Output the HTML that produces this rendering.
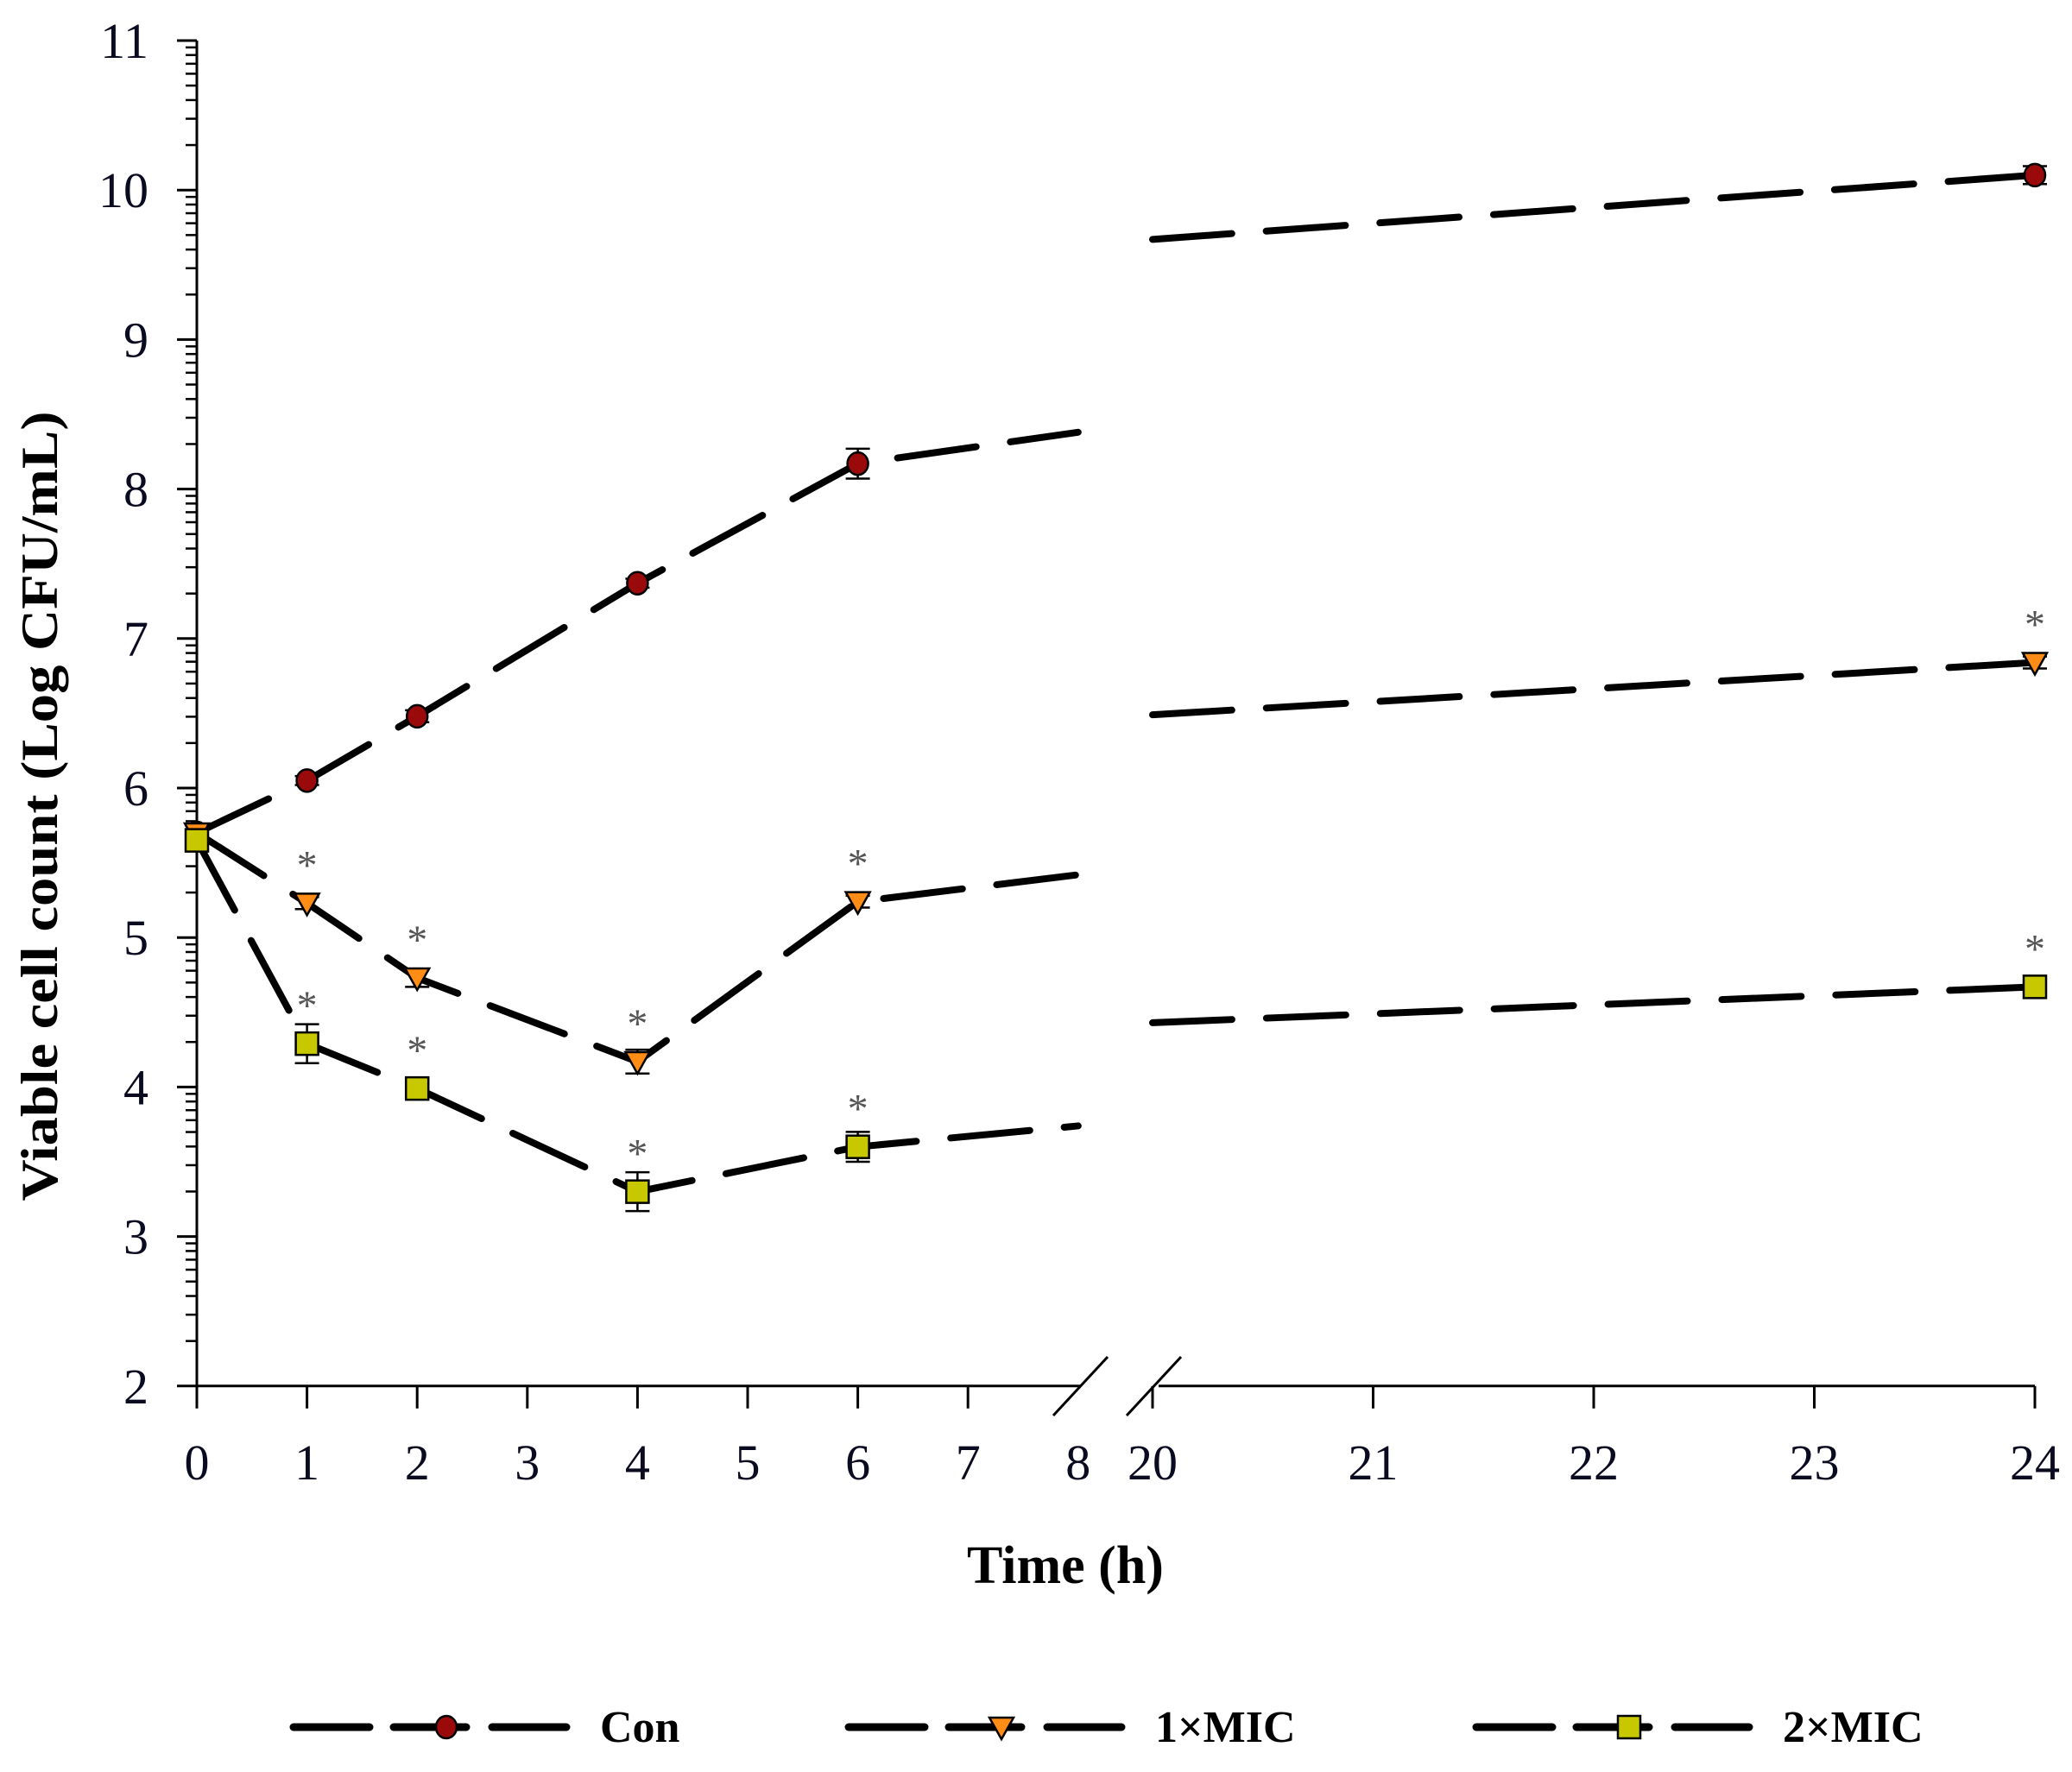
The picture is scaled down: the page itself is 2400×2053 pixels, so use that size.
<!DOCTYPE html>
<html><head><meta charset="utf-8"><style>
html,body{margin:0;padding:0;background:#fff}
svg{display:block}
text{font-family:"Liberation Serif",serif}
</style></head><body>
<svg id="chart" width="2400" height="2053" viewBox="0 0 2400 2053" xmlns="http://www.w3.org/2000/svg">
<g id="axes"></g>
<g id="series"></g>
<text x="0" y="0" transform="translate(66,934) rotate(-90)" text-anchor="middle" font-weight="bold" font-size="60" textLength="915" lengthAdjust="spacingAndGlyphs">Viable cell count (Log CFU/mL)</text>
<text x="1234" y="1834" text-anchor="middle" font-weight="bold" font-size="62">Time (h)</text>
<g id="legend"></g>
</svg>
<script>
const timesLeft = [0, 1, 2, 4, 6, 8];
const timesRight = [20, 24];
const conLeft = [5.7, 6.05, 6.48, 7.37, 8.17, 8.38];
const conRight = [9.67, 10.1];
const mic1Left = [5.7, 5.23, 4.73, 4.17, 5.24, 5.42];
const mic1Right = [6.49, 6.84];
const mic2Left = [5.65, 4.29, 3.99, 3.3, 3.6, 3.74];
const mic2Right = [4.43, 4.67];
const conErrLeft = [0.05, 0.03, 0.04, 0.03, 0.1, 0];
const conErrRight = [0, 0.06];
const mic1ErrLeft = [0.05, 0.04, 0.06, 0.08, 0.04, 0];
const mic1ErrRight = [0, 0.04];
const mic2ErrLeft = [0.05, 0.13, 0.03, 0.13, 0.1, 0];
const mic2ErrRight = [0, 0.06];
const mic1StarLeft = [false, true, true, true, true, false];
const mic1StarRight = [false, true];
const mic2StarLeft = [false, true, true, true, true, false];
const mic2StarRight = [false, true];
const yTicks = [2, 3, 4, 5, 6, 7, 8, 9, 10, 11];
const xTicksLeft = [0, 1, 2, 3, 4, 5, 6, 7, 8];
const xTicksRight = [20, 21, 22, 23, 24];

const NS = "http://www.w3.org/2000/svg";
function X(t){ return t <= 8 ? 228 + t * 127.6 : 1335 + (t - 20) * 255.5; }
function Y(v){ return 47 + (11 - v) * 173.2; }
function mk(tag, attrs, parent){
  const e = document.createElementNS(NS, tag);
  for (const k in attrs) e.setAttribute(k, attrs[k]);
  parent.appendChild(e);
  return e;
}
const axes = document.getElementById('axes');
const ser = document.getElementById('series');
const leg = document.getElementById('legend');
const y0 = Y(2);

let yl = mk('line', {x1:228, y1:Y(11), x2:228, y2:y0, stroke:'#000', 'stroke-width':3}, axes);


let xl1 = mk('line', {x1:228, y1:y0, x2:1252, y2:y0, stroke:'#000', 'stroke-width':3}, axes);


let xl2 = mk('line', {x1:1342, y1:y0, x2:X(24), y2:y0, stroke:'#000', 'stroke-width':3}, axes);


[[1220,1640,1283,1572],[1305,1640,1368,1572]].forEach(function(s){
  const b = mk('line', {x1:s[0], y1:s[1], x2:s[2], y2:s[3], stroke:'#000', 'stroke-width':3}, axes);
  
  
});
yTicks.forEach(function(v){
  const t = mk('line', {x1:205, y1:Y(v), x2:228, y2:Y(v), stroke:'#000', 'stroke-width':3}, axes);
  
  
  if (v < 11) {
    for (let k = 2; k <= 9; k++) {
      const mv = v + Math.log10(k);
      const m = mk('line', {x1:215, y1:Y(mv), x2:228, y2:Y(mv), stroke:'#000', 'stroke-width':2.5}, axes);
      
      
    }
  }
  const lb = mk('text', {x:172, y:Y(v) + 20, 'text-anchor':'end', 'font-size':58, fill:'#0a0a20'}, axes);
  lb.textContent = v;
  
  
});
xTicksLeft.concat(xTicksRight).forEach(function(t){
  if (t !== 8) {
    const tk = mk('line', {x1:X(t), y1:y0, x2:X(t), y2:y0 + 26, stroke:'#000', 'stroke-width':3}, axes);
    
    
  }
  const lb = mk('text', {x:X(t), y:1714, 'text-anchor':'middle', 'font-size':58, fill:'#0a0a20'}, axes);
  lb.textContent = t;
  
  
});

function marker(kind, cx, cy, parent){
  let m;
  if (kind === 'circle') m = mk('ellipse', {cx:cx, cy:cy, rx:12, ry:13, fill:'#9b0a0a', stroke:'#000', 'stroke-width':2.5}, parent);
  else if (kind === 'tri') m = mk('polygon', {points:(cx-14)+','+(cy-11)+' '+(cx+14)+','+(cy-11)+' '+cx+','+(cy+14), fill:'#ff8c14', stroke:'#000', 'stroke-width':2.5}, parent);
  else m = mk('rect', {x:cx-13, y:cy-13, width:26, height:26, fill:'#c8c800', stroke:'#000', 'stroke-width':2.5}, parent);
  return m;
}

const seriesDefs = [
  {name:'con', kind:'circle', L:conLeft, R:conRight, eL:conErrLeft, eR:conErrRight, sL:null, sR:null},
  {name:'1x-mic', kind:'tri', L:mic1Left, R:mic1Right, eL:mic1ErrLeft, eR:mic1ErrRight, sL:mic1StarLeft, sR:mic1StarRight},
  {name:'2x-mic', kind:'sq', L:mic2Left, R:mic2Right, eL:mic2ErrLeft, eR:mic2ErrRight, sL:mic2StarLeft, sR:mic2StarRight}
];
seriesDefs.forEach(function(s){
  const g = mk('g', {}, ser);
  
  
  [[timesLeft, s.L], [timesRight, s.R]].forEach(function(pair, pi){
    const d = pair[0].map(function(t, i){ return (i ? 'L' : 'M') + X(t) + ',' + Y(pair[1][i]); }).join(' ');
    const p = mk('path', {d:d, fill:'none', stroke:'#000', 'stroke-width':8, 'stroke-dasharray':'92 40', 'stroke-linecap':'round'}, g);
    
    
  });
  const pts = [];
  timesLeft.forEach(function(t, i){ if (t !== 8) pts.push([t, s.L[i], s.eL[i], s.sL ? s.sL[i] : false]); });
  timesRight.forEach(function(t, i){ if (t !== 20) pts.push([t, s.R[i], s.eR[i], s.sR ? s.sR[i] : false]); });
  pts.forEach(function(p){
    const cx = X(p[0]), cy = Y(p[1]);
    if (p[2] > 0) {
      const eb = mk('path', {d:'M'+cx+','+Y(p[1]+p[2])+' L'+cx+','+Y(p[1]-p[2])+' M'+(cx-14)+','+Y(p[1]+p[2])+' L'+(cx+14)+','+Y(p[1]+p[2])+' M'+(cx-14)+','+Y(p[1]-p[2])+' L'+(cx+14)+','+Y(p[1]-p[2]), stroke:'#000', 'stroke-width':2.5, fill:'none'}, g);
      
      
    }
    const m = marker(s.kind, cx, cy, g);
    
    
    if (p[3]) {
      const st = mk('text', {x:cx, y:cy - 28, 'text-anchor':'middle', 'font-size':48, fill:'#555'}, g);
      st.textContent = '*';
      
      
    }
  });
});

const legendItems = [['con','circle','Con',340],['1x-mic','tri','1×MIC',983],['2x-mic','sq','2×MIC',1710]];
legendItems.forEach(function(it){
  const g = mk('g', {}, leg);
  
  
  const x = it[3], y = 2001;
  [[x, x+88],[x+116, x+200],[x+230, x+316]].forEach(function(seg){
    const l = mk('line', {x1:seg[0], y1:y, x2:seg[1], y2:y, stroke:'#000', 'stroke-width':9, 'stroke-linecap':'round'}, g);
    
    
  });
  const m = marker(it[1], x + 177, y, g);
  
  
  const t = mk('text', {x:x + 355, y:y + 17, 'font-size':52, 'font-weight':'bold'}, g);
  t.textContent = it[2];
  
  
});
</script>
</body></html>
